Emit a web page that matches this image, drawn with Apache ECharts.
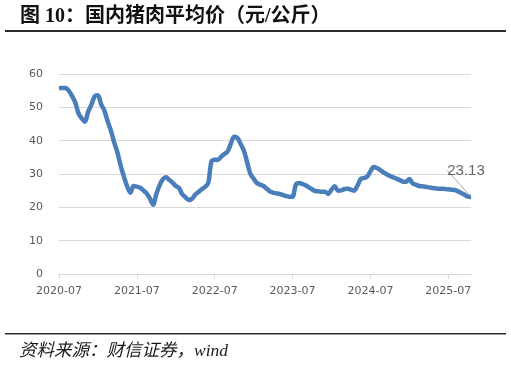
<!DOCTYPE html>
<html><head><meta charset="utf-8">
<script src="https://cdn.jsdelivr.net/npm/echarts@6/dist/echarts.min.js"></script>
<style>html,body{margin:0;padding:0;background:#fff}#c{width:511px;height:367px}</style>
</head><body><div id="c"></div>
<script>
// semi-monthly dates, 2020-07-01 .. 2025-10-16
const dates = [];
for (let y = 2020; y <= 2025; y++) {
  for (let mo = 1; mo <= 12; mo++) {
    if (y === 2020 && mo < 7) continue;
    if (y === 2025 && mo > 10) continue;
    const mm = String(mo).padStart(2, '0');
    dates.push(y + '-' + mm + '-01', y + '-' + mm + '-16');
  }
}
const prices = [
  55.7,55.8,55.8,55.0,53.4,51.5,48.2,46.7,45.7,48.7,50.8,53.3,53.6,50.9,49.0,45.8,43.0,39.5,36.5,32.5,
  29.2,26.3,24.4,26.4,26.2,25.9,25.1,24.2,22.7,20.8,24.0,26.6,28.4,29.0,28.2,27.4,26.4,25.8,23.9,23.0,
  22.2,22.6,23.8,24.6,25.4,26.1,27.3,33.8,34.3,34.2,35.2,36.0,36.8,39.2,41.2,40.8,39.0,37.0,33.5,30.0,
  28.6,27.3,26.8,26.4,25.6,24.8,24.4,24.2,24.0,23.7,23.4,23.2,23.2,26.8,27.3,27.0,26.6,26.0,25.4,24.9,
  24.8,24.7,24.7,24.0,25.3,26.3,25.0,25.1,25.5,25.6,25.3,25.0,26.5,28.5,28.8,29.2,30.8,32.1,31.8,31.2,
  30.5,29.9,29.4,29.0,28.6,28.2,27.7,27.7,28.5,27.2,26.8,26.4,26.3,26.2,26.0,25.8,25.7,25.6,25.6,25.5,
  25.4,25.3,25.2,24.8,24.3,23.8,23.2,23.13
];
const yTicks = { min: 0, max: 60, step: 10 };
const titleText = '图 10：国内猪肉平均价（元/公斤）';
const sourceText = '资料来源：财信证券，wind';

const isJuly = (i, v) => String(v).slice(5) === '07-01';
const chart = echarts.init(document.getElementById('c'));
const last = dates.length - 1;
chart.setOption({
  animation: false,
  backgroundColor: '#fff',
  title: {
    text: titleText, left: 15, top: 2,
    textStyle: { fontFamily: "'Liberation Serif','Noto Sans CJK SC'", fontWeight: 'bold', fontSize: 20, color: '#111' }
  },
  graphic: [
    { type: 'rect', shape: { x: 5, y: 30, width: 501, height: 2 }, style: { fill: '#2b2b2b' } },
    { type: 'rect', shape: { x: 5, y: 333, width: 501, height: 1.5 }, style: { fill: '#2b2b2b' } },
    { type: 'text', left: 19, top: 343,
      style: { text: sourceText, font: "italic 17.5px 'Liberation Serif','Noto Sans CJK SC'", fill: '#1a1a1a' } }
  ],
  grid: { left: 59, right: 40, top: 74, bottom: 93, containLabel: false },
  xAxis: {
    type: 'category', data: dates, boundaryGap: false,
    axisLine: { lineStyle: { color: '#d9d9d9', width: 1 } },
    axisTick: { show: true, interval: isJuly, length: 5, lineStyle: { color: '#d9d9d9' } },
    axisLabel: { interval: isJuly, formatter: v => v.slice(0, 7), color: '#595959',
      fontFamily: 'DejaVu Sans', fontSize: 11, margin: 12 }
  },
  yAxis: {
    type: 'value', min: yTicks.min, max: yTicks.max, interval: yTicks.step,
    axisLine: { show: false }, axisTick: { show: false },
    splitLine: { lineStyle: { color: '#d9d9d9', width: 1 } },
    axisLabel: { color: '#595959', fontFamily: 'DejaVu Sans', fontSize: 11, margin: 16 }
  },
  series: [
    { type: 'line', data: prices, showSymbol: false, smooth: 0.3,
      lineStyle: { color: '#4a7ebb', width: 4.5 } },
    { type: 'scatter', data: [[dates[last], prices[last]]], symbolSize: 0, silent: true,
      label: { show: true, position: 'top', formatter: p => p.value[1].toFixed(2),
        color: '#404040', fontFamily: "'Liberation Sans'", fontSize: 15 },
      labelLayout: { dx: -5, dy: -14 },
      labelLine: { show: true, lineStyle: { color: '#a6a6a6', width: 1 } } }
  ]
});
</script></body></html>
